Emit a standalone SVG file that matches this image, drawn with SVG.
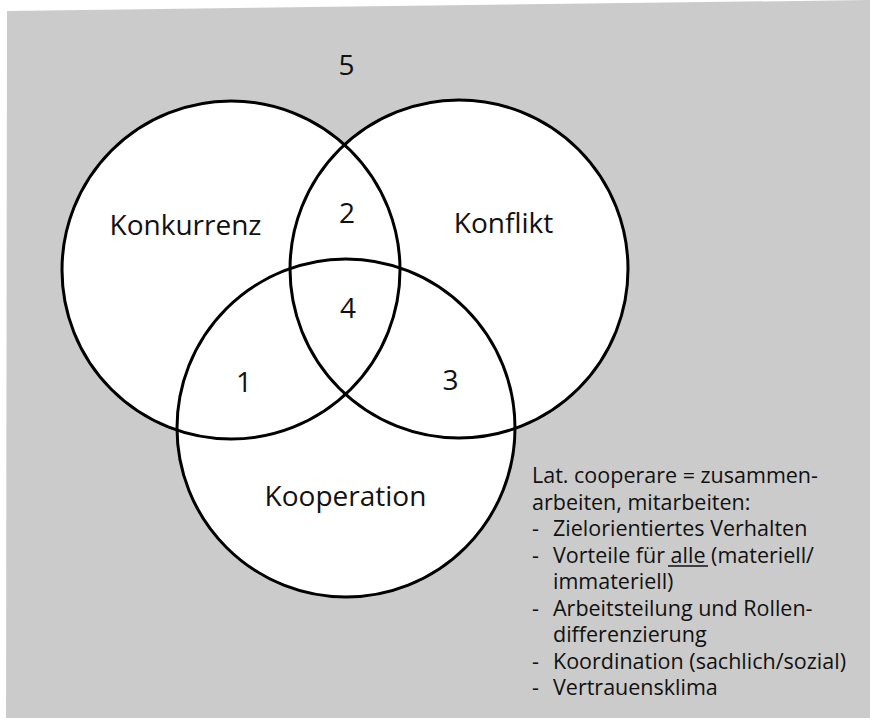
<svg xmlns="http://www.w3.org/2000/svg" width="870" height="718" viewBox="0 0 870 718">
<style>
.ring{fill:none;stroke:#000;stroke-width:3}
.lbl{font-family:"Open Sans","Noto Sans",sans-serif;font-size:28px;fill:#111;text-anchor:middle}
.note{font-family:"Open Sans","Noto Sans",sans-serif;font-size:21.5px;fill:#111}
</style>
<rect x="0" y="0" width="870" height="718" fill="#fff"/>
<polygon points="7,11 870,0 870,718 6,718" fill="#cbcbcb"/>
<g id="fills" fill="#fff">
<circle cx="231" cy="270" r="169"/>
<circle cx="459" cy="269" r="169"/>
<circle cx="346" cy="428" r="169"/>
</g>
<g id="connectors"></g>
<g id="node-konkurrenz">
<circle class="ring" cx="231" cy="270" r="169"/>
<text class="lbl" x="185.5" y="235">Konkurrenz</text>
</g>
<g id="node-konflikt">
<circle class="ring" cx="459" cy="269" r="169"/>
<text class="lbl" x="503.5" y="233">Konflikt</text>
</g>
<g id="node-kooperation">
<circle class="ring" cx="346" cy="428" r="169"/>
<text class="lbl" x="345.5" y="506">Kooperation</text>
</g>
<g id="region-labels">
<text class="lbl" x="346.5" y="75">5</text>
<text class="lbl" x="347" y="223">2</text>
<text class="lbl" x="348" y="318">4</text>
<text class="lbl" x="244" y="392">1</text>
<text class="lbl" x="450.5" y="390">3</text>
</g>
<g id="note">
<text class="note" x="532" y="483">Lat. cooperare = zusammen-</text>
<text class="note" x="532" y="509.5">arbeiten, mitarbeiten:</text>
<text class="note" x="532" y="536">-</text>
<text class="note" x="553" y="536">Zielorientiertes Verhalten</text>
<text class="note" x="532" y="562.5">-</text>
<text class="note" x="553" y="562.5">Vorteile für alle (materiell/</text>
<line x1="668" y1="566" x2="708" y2="566" stroke="#111" stroke-width="1.5"/>
<text class="note" x="553" y="589">immateriell)</text>
<text class="note" x="532" y="615.5">-</text>
<text class="note" x="553" y="615.5">Arbeitsteilung und Rollen-</text>
<text class="note" x="553" y="642">differenzierung</text>
<text class="note" x="532" y="668.5">-</text>
<text class="note" x="553" y="668.5">Koordination (sachlich/sozial)</text>
<text class="note" x="532" y="695">-</text>
<text class="note" x="553" y="695">Vertrauensklima</text>
</g>
</svg>
